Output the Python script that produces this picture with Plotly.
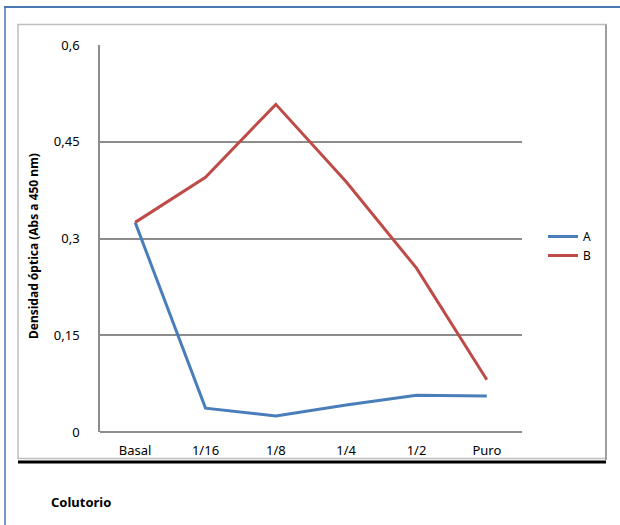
import plotly.graph_objects as go

categories = ["Basal", "1/16", "1/8", "1/4", "1/2", "Puro"]
serie_a = [0.325, 0.037, 0.025, 0.042, 0.057, 0.056]
serie_b = [0.325, 0.395, 0.508, 0.388, 0.254, 0.081]
y_ticks = [0, 0.15, 0.3, 0.45, 0.6]
y_ticktext = ["0", "0,15", "0,3", "0,45", "0,6"]

FONT = "Noto Sans"
L, R, T, B = 100, 522, 45, 432
W, H = 620, 525

def px(x):
    return (x - L) / (R - L)

def py(y):
    return (B - y) / (B - T)

fig = go.Figure()
fig.add_trace(go.Scatter(x=categories, y=serie_a, mode="lines", name="A",
                         line=dict(color="#4A7EBB", width=3)))
fig.add_trace(go.Scatter(x=categories, y=serie_b, mode="lines", name="B",
                         line=dict(color="#BE4B48", width=3)))

shapes = [
    dict(type="rect", xref="paper", yref="paper", x0=px(18), x1=px(606), y0=py(458.5), y1=py(24.5),
         line=dict(color="#BEBEBE", width=1.5), layer="below"),
    dict(type="line", xref="paper", yref="paper", x0=px(606), x1=px(606), y0=py(460), y1=py(24.5),
         line=dict(color="#8E8E8E", width=1.5)),
    dict(type="line", xref="paper", yref="paper", x0=px(18), x1=px(606), y0=py(462), y1=py(462),
         line=dict(color="#000000", width=3)),
    dict(type="line", xref="paper", yref="paper", x0=px(4), x1=px(625), y0=py(7), y1=py(7),
         line=dict(color="#4A78B0", width=2)),
    dict(type="line", xref="paper", yref="paper", x0=px(5), x1=px(5), y0=py(7), y1=py(530),
         line=dict(color="#4A78B0", width=1.5)),
]

fig.update_layout(
    width=W, height=H,
    margin=dict(l=L, r=W - R, t=T, b=H - B),
    paper_bgcolor="white", plot_bgcolor="white",
    font=dict(family=FONT, size=12, color="#000000"),
    showlegend=True,
    legend=dict(x=px(543), y=py(246), xanchor="left", yanchor="middle",
                font=dict(family=FONT, size=12), bgcolor="rgba(0,0,0,0)",
                itemwidth=30, tracegroupgap=4),
    shapes=shapes,
    annotations=[
        dict(text="<b>Densidad óptica (Abs a 450 nm)</b>", xref="paper", yref="paper",
             x=px(33), y=py(246), textangle=-90, showarrow=False,
             font=dict(family=FONT, size=12), xanchor="center", yanchor="middle"),
        dict(text="<b>Colutorio</b>", xref="paper", yref="paper",
             x=px(49), y=py(502), showarrow=False, xanchor="left", yanchor="middle",
             font=dict(family=FONT, size=13)),
    ],
)
fig.update_xaxes(type="category", showgrid=False, showline=False, zeroline=False,
                 ticks="", ticklabelstandoff=9, tickfont=dict(family=FONT, size=13),
                 range=[-0.5, 5.5])
fig.update_yaxes(range=[0, 0.6], tickvals=y_ticks, ticktext=y_ticktext,
                 showgrid=True, gridcolor="#8C8C8C", gridwidth=1.5,
                 showline=True, linecolor="#8C8C8C", linewidth=1.5,
                 zeroline=True, zerolinecolor="#8C8C8C", zerolinewidth=1.5,
                 ticks="", ticklabelstandoff=16, tickfont=dict(family=FONT, size=13))

fig.write_html("out.html", config={"displayModeBar": False},
               post_script="document.body.style.margin='0px';")
